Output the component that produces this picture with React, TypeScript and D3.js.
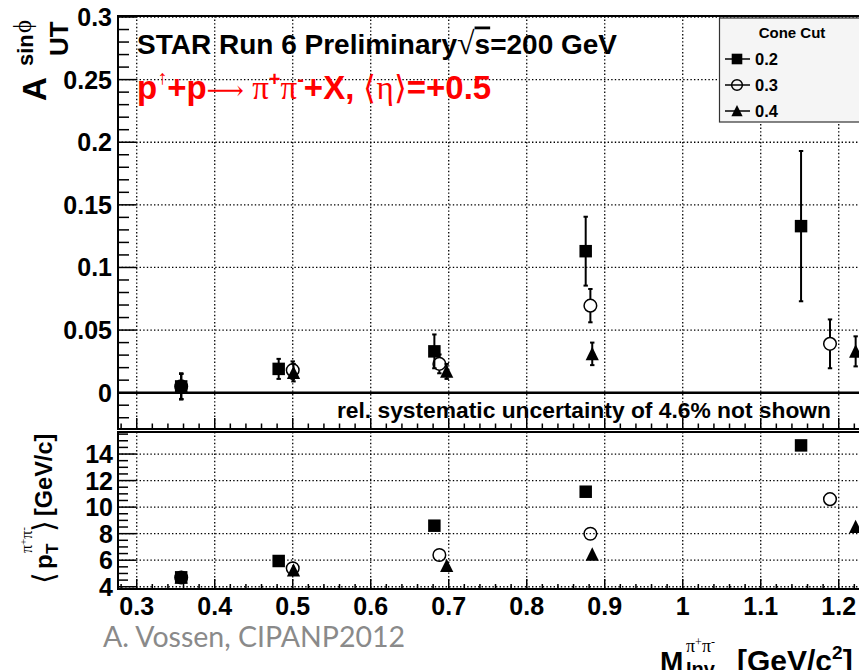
import React from "react";
import * as d3 from "d3";

// ---------------- data ----------------
const coneCuts = ["0.2", "0.3", "0.4"];

const mass02 = [0.357, 0.482, 0.6816, 0.8756, 1.1517];
const asym02 = [0.005, 0.019, 0.033, 0.113, 0.133];
const err02 = [0.0105, 0.008, 0.0135, 0.0275, 0.06];
const pt02 = [4.71, 5.94, 8.6, 11.16, 14.65];

const mass03 = [0.357, 0.5, 0.688, 0.8816, 1.1888];
const asym03 = [0.005, 0.018, 0.023, 0.0695, 0.039];
const err03 = [0.0100, 0.007, 0.0075, 0.0133, 0.0195];
const pt03 = [4.7, 5.39, 6.39, 7.99, 10.6];

const mass04 = [0.357, 0.501, 0.6974, 0.884, 1.2217];
const asym04 = [0.005, 0.016, 0.017, 0.031, 0.033];
const err04 = [0.01, 0.007, 0.006, 0.009, 0.012];
const pt04 = [4.7, 5.25, 5.58, 6.44, 8.52];

const xTickValues = [0.3, 0.4, 0.5, 0.6, 0.7, 0.8, 0.9, 1.0, 1.1, 1.2];
const xTickLabels = ["0.3", "0.4", "0.5", "0.6", "0.7", "0.8", "0.9", "1", "1.1", "1.2"];
const asymTickValues = [0, 0.05, 0.1, 0.15, 0.2, 0.25, 0.3];
const asymTickLabels = ["0", "0.05", "0.1", "0.15", "0.2", "0.25", "0.3"];
const ptTickValues = [4, 6, 8, 10, 12, 14];
const ptTickLabels = ["4", "6", "8", "10", "12", "14"];

type Kind = "square" | "circle" | "triangle";
const seriesKinds: Kind[] = ["square", "circle", "triangle"];

// ---------------- layout ----------------
const W = 859;
const H = 670;
const LEFT = 118;
const RIGHT = 875;
const UP_TOP = 16;
const UP_BOT = 429;
const LO_TOP = 432;
const LO_BOT = 589;

const SANS = "'Liberation Sans', Arial, Helvetica, sans-serif";
const SERIF = "'Liberation Serif', 'Times New Roman', serif";

const x = d3.scaleLinear().domain([0.276, 1.2465]).range([LEFT, RIGHT]);
const yA = d3.scaleLinear().domain([-0.029, 0.3008]).range([UP_BOT, UP_TOP]);
const yP = d3.scaleLinear().domain([3.83, 15.66]).range([LO_BOT, LO_TOP]);

const sqSym = d3.symbol().type(d3.symbolSquare).size(156);
const circleR = 6.3;

function Marker({ kind, cx, cy, scale = 1 }: { kind: Kind; cx: number; cy: number; scale?: number }) {
  if (kind === "square") {
    return <path transform={`translate(${cx},${cy}) scale(${scale})`} d={sqSym() as string} fill="#000" />;
  }
  if (kind === "circle") {
    return <circle cx={cx} cy={cy} r={circleR * scale} fill="none" stroke="#000" strokeWidth={1.5} />;
  }
  const p = d3.path();
  p.moveTo(0, -7);
  p.lineTo(6.6, 6.3);
  p.lineTo(-6.6, 6.3);
  p.closePath();
  return <path transform={`translate(${cx},${cy}) scale(${scale})`} d={p.toString()} fill="#000" />;
}

function ErrBar({ cx, cy, top, bot, gap }: { cx: number; cy: number; top: number; bot: number; gap: number }) {
  const cap = 2.2;
  return (
    <g stroke="#000" strokeWidth={2}>
      {cy - gap > top && <line x1={cx} x2={cx} y1={cy - gap} y2={top} />}
      {cy + gap < bot && <line x1={cx} x2={cx} y1={cy + gap} y2={bot} />}
      <line x1={cx - cap} x2={cx + cap} y1={top} y2={top} />
      <line x1={cx - cap} x2={cx + cap} y1={bot} y2={bot} />
    </g>
  );
}

const DOT = { stroke: "#000", strokeWidth: 1.3, strokeDasharray: "1.4,2.2" };

export default function App() {
  const massSets = [mass02, mass03, mass04];
  const asymSets = [asym02, asym03, asym04];
  const errSets = [err02, err03, err04];
  const ptSets = [pt02, pt03, pt04];
  const drawOrder = [1, 2, 0];

  const asymMinor = d3.range(-2, 30).map((i) => i / 100).filter((v) => !asymTickValues.some((t) => Math.abs(t - v) < 1e-6));
  const ptMinor = d3.range(8, 32).map((i) => i / 2).filter((v) => !ptTickValues.includes(v));
  const xMinor = d3.range(14, 63).map((i) => i / 50).filter((v) => !xTickValues.some((t) => Math.abs(t - v) < 1e-6));

  return (
    <svg width={W} height={H} style={{ position: "absolute", left: 0, top: 0, background: "#fff" }} fontFamily={SANS}>
      <rect x={0} y={0} width={W} height={H} fill="#fff" />

      {/* ---------- upper panel grid ---------- */}
      {xTickValues.map((v) => (
        <line key={"gvu" + v} x1={x(v)} x2={x(v)} y1={UP_TOP} y2={UP_BOT} {...DOT} />
      ))}
      {asymTickValues.filter((v) => v > 0).map((v) => (
        <line key={"ghu" + v} x1={LEFT} x2={RIGHT} y1={yA(v)} y2={yA(v)} {...DOT} />
      ))}
      <line x1={LEFT} x2={RIGHT} y1={yA(0)} y2={yA(0)} stroke="#000" strokeWidth={2.5} />

      {/* ---------- lower panel grid ---------- */}
      {xTickValues.map((v) => (
        <line key={"gvl" + v} x1={x(v)} x2={x(v)} y1={LO_TOP} y2={LO_BOT} {...DOT} />
      ))}
      {ptTickValues.map((v) => (
        <line key={"ghl" + v} x1={LEFT} x2={RIGHT} y1={yP(v)} y2={yP(v)} {...DOT} />
      ))}

      {/* ---------- ticks ---------- */}
      <g stroke="#000" strokeWidth={1.5}>
        {asymTickValues.map((v) => (
          <line key={"tau" + v} x1={LEFT} x2={LEFT + 18} y1={yA(v)} y2={yA(v)} />
        ))}
        {asymMinor.map((v) => (
          <line key={"tam" + v} x1={LEFT} x2={LEFT + 11} y1={yA(v)} y2={yA(v)} />
        ))}
        {ptTickValues.map((v) => (
          <line key={"tpu" + v} x1={LEFT} x2={LEFT + 18} y1={yP(v)} y2={yP(v)} />
        ))}
        {ptMinor.map((v) => (
          <line key={"tpm" + v} x1={LEFT} x2={LEFT + 10} y1={yP(v)} y2={yP(v)} />
        ))}
        {xTickValues.map((v) => (
          <g key={"txu" + v}>
            <line x1={x(v)} x2={x(v)} y1={UP_BOT} y2={UP_BOT - 11} />
            <line x1={x(v)} x2={x(v)} y1={LO_BOT} y2={LO_BOT - 10} />
          </g>
        ))}
        {xMinor.map((v) => (
          <g key={"txm" + v}>
            <line x1={x(v)} x2={x(v)} y1={UP_BOT} y2={UP_BOT - 5.5} />
            <line x1={x(v)} x2={x(v)} y1={LO_BOT} y2={LO_BOT - 5} />
          </g>
        ))}
      </g>

      {/* ---------- frames ---------- */}
      <g stroke="#000" strokeWidth={2} fill="none">
        <path d={`M${RIGHT},${UP_TOP}H${LEFT}V${UP_BOT}H${RIGHT}`} />
        <path d={`M${RIGHT},${LO_TOP}H${LEFT}V${LO_BOT}H${RIGHT}`} />
      </g>

      {/* ---------- tick labels ---------- */}
      <g fontWeight="bold" fontSize={25} fill="#000" textAnchor="end">
        {asymTickValues.map((v, i) => (
          <text key={"la" + v} x={112} y={yA(v) + 9}>
            {asymTickLabels[i]}
          </text>
        ))}
        {ptTickValues.map((v, i) => (
          <text key={"lp" + v} x={113} y={yP(v) + 9}>
            {ptTickLabels[i]}
          </text>
        ))}
      </g>
      <g fontWeight="bold" fontSize={25} fill="#000" textAnchor="middle">
        {xTickValues.map((v, i) => (
          <text key={"lx" + v} x={x(v)} y={615}>
            {xTickLabels[i]}
          </text>
        ))}
      </g>

      {/* ---------- data: asymmetry ---------- */}
      {drawOrder.map((s) => (
        <g key={"ua" + s}>
          {massSets[s].map((m, i) => {
            const cx = x(m);
            const cy = yA(asymSets[s][i]);
            return (
              <g key={i}>
                <ErrBar
                  cx={cx}
                  cy={cy}
                  top={yA(asymSets[s][i] + errSets[s][i])}
                  bot={yA(asymSets[s][i] - errSets[s][i])}
                  gap={seriesKinds[s] === "circle" ? circleR : 0}
                />
                <Marker kind={seriesKinds[s]} cx={cx} cy={cy} />
              </g>
            );
          })}
        </g>
      ))}

      {/* ---------- data: pT ---------- */}
      {drawOrder.map((s) => (
        <g key={"lp" + s}>
          {massSets[s].map((m, i) => (
            <Marker key={i} kind={seriesKinds[s]} cx={x(m)} cy={yP(ptSets[s][i])} />
          ))}
        </g>
      ))}

      {/* ---------- texts inside upper panel ---------- */}
      <text x={137} y={53.5} fontWeight="bold" fontSize={28} fill="#000">
        STAR Run 6 Preliminary
        <tspan fontFamily={SERIF} fontWeight="normal" fontSize={32}>√</tspan>
        <tspan textDecoration="overline">s</tspan>=200 GeV
      </text>
      <text x={137} y={99} fontWeight="bold" fontSize={33} fill="#ff0000">
        p
        <tspan fontFamily={SERIF} fontWeight="normal" fontSize={20} dy={-15}>↑</tspan>
        <tspan dy={15}>+p</tspan>
        <tspan fontFamily="'DejaVu Serif', serif" fontWeight="normal" fontSize={26}>⟶ </tspan>
        <tspan fontFamily={SERIF} fontWeight="normal">π</tspan>
        <tspan fontSize={20} dy={-13}>+</tspan>
        <tspan fontFamily={SERIF} fontWeight="normal" dy={13}>π</tspan>
        <tspan fontSize={20} dy={-13}>-</tspan>
        <tspan dy={13}>+X, </tspan>
        <tspan fontFamily={SERIF} fontWeight="normal">⟨η⟩</tspan>=+0.5
      </text>
      <text x={831} y={418} fontWeight="bold" fontSize={22.8} textAnchor="end" fill="#000">
        rel. systematic uncertainty of 4.6% not shown
      </text>

      {/* ---------- legend ---------- */}
      <rect x={719.5} y={18} width={160} height={104} fill="#f5f5f5" stroke="#333" strokeWidth={1.2} />
      <text x={792} y={38} fontWeight="bold" fontSize={15} textAnchor="middle" fill="#000">
        Cone Cut
      </text>
      {coneCuts.map((c, i) => {
        const cy = 59 + i * 26;
        return (
          <g key={"lg" + c}>
            <line x1={725} x2={750} y1={cy} y2={cy} stroke="#000" strokeWidth={1.5} />
            <Marker kind={seriesKinds[i]} cx={737} cy={cy} scale={0.85} />
            <text x={755} y={cy + 6} fontWeight="bold" fontSize={16.5} fill="#000">
              {c}
            </text>
          </g>
        );
      })}

      {/* ---------- axis titles ---------- */}
      <g transform="translate(46,101) rotate(-90)" fontWeight="bold" fill="#000">
        <text x={0} y={0} fontSize={33}>A</text>
        <text x={45} y={22} fontSize={26}>UT</text>
        <text x={35} y={-13} fontSize={22}>sin</text>
        <text x={68} y={-15} fontSize={25} fontFamily={SERIF} fontWeight="normal">ϕ</text>
      </g>
      <g transform="translate(52,588) rotate(-90)" fill="#000">
        <text x={4} y={2} fontSize={30} fontFamily={SERIF}>⟨</text>
        <text x={19} y={0} fontSize={24} fontWeight="bold">p</text>
        <text x={34} y={6} fontSize={17} fontWeight="bold">T</text>
        <text x={35} y={-20} fontSize={16} fontFamily={SERIF}>
          π<tspan fontSize={11} dy={-5}>+</tspan><tspan dy={5}>π</tspan><tspan fontSize={11} dy={-5}>-</tspan>
        </text>
        <text x={56} y={2} fontSize={30} fontFamily={SERIF}>⟩</text>
        <text x={72} y={0} fontSize={23.5} fontWeight="bold">[GeV/c]</text>
      </g>

      <text x={660} y={671} fontSize={28} fontWeight="bold" fill="#000">M</text>
      <text x={686} y={652} fontSize={18} fontFamily={SERIF} fill="#000">
        π<tspan fontSize={12} dy={-6}>+</tspan><tspan dy={6}>π</tspan><tspan fontSize={12} dy={-6}>-</tspan>
      </text>
      <text x={686} y={676} fontSize={20} fontWeight="bold" fill="#000">Inv</text>
      <text x={737} y={671} fontSize={30} fontWeight="bold" fill="#000">
        [GeV/c<tspan fontSize={19} dy={-12}>2</tspan><tspan dy={12}>]</tspan>
      </text>

      <text x={103} y={647} fontFamily="Lato, 'Open Sans', sans-serif" fontSize={28.5} fill="#8a8a8a">
        A. Vossen, CIPANP2012
      </text>
    </svg>
  );
}
